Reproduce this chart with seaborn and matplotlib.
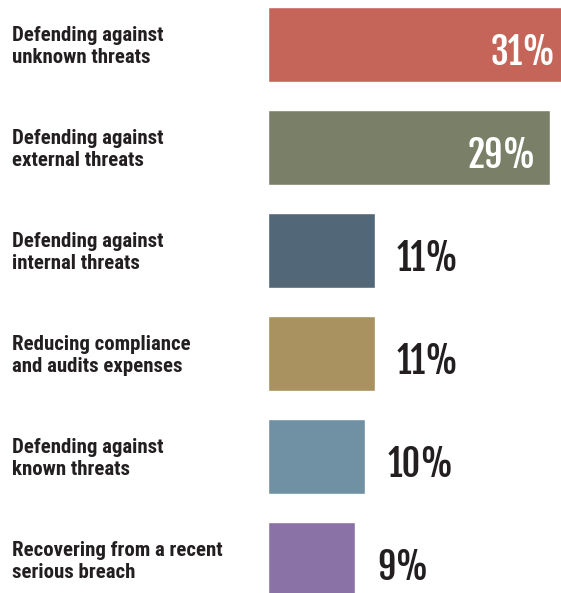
import matplotlib
matplotlib.use("Agg")
import matplotlib.pyplot as plt
import matplotlib.transforms as mtransforms
import seaborn as sns

# Survey results: main driver for security spending
categories = [
    "Defending against\nunknown threats",
    "Defending against\nexternal threats",
    "Defending against\ninternal threats",
    "Reducing compliance\nand audits expenses",
    "Defending against\nknown threats",
    "Recovering from a recent\nserious breach",
]
values = [31, 29, 11, 11, 10, 9]
colors = ["#c5655a", "#7a8067", "#526778", "#a99160", "#6f91a3", "#8b72a6"]
value_labels = ["31%", "29%", "11%", "11%", "10%", "9%"]

sns.set_theme(style="white")
plt.rcParams["font.family"] = ["Roboto Condensed", "DejaVu Sans"]

W, H = 561, 593
fig = plt.figure(figsize=(W / 100, H / 100), dpi=100)
fig.patch.set_facecolor("white")

ax_left = 267.5 / W
ax_width = 302 / W
ax_bottom = -18 / H
ax_height = 618 / H
ax = fig.add_axes([ax_left, ax_bottom, ax_width, ax_height])

sns.barplot(
    x=values, y=categories, hue=categories, palette=colors,
    width=0.73, legend=False, saturation=1, ax=ax, orient="h",
)
ax.set_xlim(0, 31)
ax.set_ylim(5.5, -0.5)
ax.axis("off")

ink = "#231f20"

# category labels at the left edge of the figure
trans = mtransforms.blended_transform_factory(fig.transFigure, ax.transData)
for i, cat in enumerate(categories):
    ax.text(12 / W, i + 0.02, cat, transform=trans, ha="left", va="center",
            fontsize=15, fontweight="bold", color=ink, linespacing=1.2,
            family=["Roboto Condensed", "DejaVu Sans"], clip_on=False)

# value labels: inside the long bars, beside the short ones
num_font = ["Fjalla One", "DejaVu Sans"]
for i, (v, lab) in enumerate(zip(values, value_labels)):
    if v > 20:
        ax.annotate(lab, xy=(v, i), xytext=(-10, -14.8), textcoords="offset points",
                    ha="right", va="baseline", fontsize=26, fontweight="bold",
                    family=num_font, color="white", annotation_clip=False)
    else:
        ax.annotate(lab, xy=(v, i), xytext=(16, -14.8), textcoords="offset points",
                    ha="left", va="baseline", fontsize=26, fontweight="bold",
                    family=num_font, color=ink, annotation_clip=False)

fig.savefig("out.png", dpi=100, facecolor="white")
